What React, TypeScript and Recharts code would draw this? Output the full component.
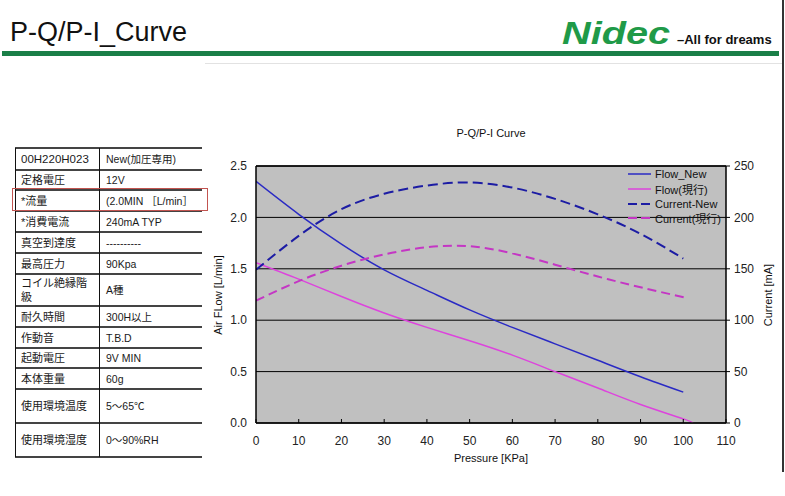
import React from 'react';
import { LineChart, Line, XAxis, YAxis, CartesianGrid, Legend, ReferenceLine } from 'recharts';

// ---- data ----
const pressureTicks = [0, 10, 20, 30, 40, 50, 60, 70, 80, 90, 100, 110];
const flowTicks = [0, 0.5, 1.0, 1.5, 2.0, 2.5];
const currentTicks = [0, 50, 100, 150, 200, 250];

const flowNewP = [0, 10, 20, 30, 40, 50, 60, 70, 80, 90, 100];
const flowNewQ = [2.35, 2.03, 1.74, 1.49, 1.29, 1.1, 0.93, 0.77, 0.61, 0.45, 0.3];

const flowOldP = [0, 10, 20, 30, 40, 50, 60, 70, 80, 90, 100, 102.3];
const flowOldQ = [1.56, 1.4, 1.23, 1.07, 0.93, 0.8, 0.66, 0.5, 0.34, 0.18, 0.04, 0];

const curNewP = [0, 10, 20, 30, 40, 50, 60, 70, 80, 90, 100];
const curNewI = [149, 182, 208, 223, 231, 234, 229, 218, 203, 184, 160];

const curOldP = [0, 10, 20, 30, 40, 50, 60, 70, 80, 90, 101];
const curOldI = [119, 138, 153, 164, 171, 172, 165, 154, 142.5, 132, 121.5];

const specLabels = ['00H220H023', '定格電圧', '*流量', '*消費電流', '真空到達度', '最高圧力', 'コイル絶縁階\n級', '耐久時間', '作動音', '起動電圧', '本体重量', '使用環境温度', '使用環境湿度'];
const specValues = ['New(加圧専用)', '12V', '(2.0MIN ［L/min］', '240mA TYP', '----------', '90Kpa', 'A種', '300H以上', 'T.B.D', '9V MIN', '60g', '5～65℃', '0～90%RH'];
const rowEdges = [148, 170, 190, 211, 232, 253, 274, 306, 327, 348, 368, 389, 423, 457];

const toRows = (xs: number[], ys: number[]) => xs.map((x, i) => ({ p: x, v: ys[i] }));

const series = [
  { name: 'Flow_New', data: toRows(flowNewP, flowNewQ), axis: 'left', color: '#2a2ac4', dash: undefined as string | undefined, width: 1.5 },
  { name: 'Flow(現行)', data: toRows(flowOldP, flowOldQ), axis: 'left', color: '#dd44dd', dash: undefined as string | undefined, width: 1.5 },
  { name: 'Current-New', data: toRows(curNewP, curNewI), axis: 'right', color: '#1c1ca4', dash: '10 5', width: 2 },
  { name: 'Current(現行)', data: toRows(curOldP, curOldI), axis: 'right', color: '#c436c4', dash: '9 5', width: 2 },
];

const sans = '"Liberation Sans", Arial, "Noto Sans CJK JP", sans-serif';
const jp = '"Liberation Sans", "Noto Sans CJK JP", sans-serif';

const LegendBox = () => (
  <div style={{ fontFamily: sans, fontSize: 11, color: '#111' }}>
    {series.map((s) => (
      <div key={s.name} style={{ display: 'flex', alignItems: 'center', height: 14.7, whiteSpace: 'nowrap' }}>
        <svg width={23} height={6} style={{ marginRight: 4 }}>
          <line x1={0} y1={3} x2={23} y2={3} stroke={s.color} strokeWidth={s.dash ? 2.2 : 1.5} strokeDasharray={s.dash ? '9 4' : undefined} />
        </svg>
        <span>{s.name}</span>
      </div>
    ))}
  </div>
);

export default function App() {
  return (
    <div style={{ position: 'absolute', left: 0, top: 0, width: 785, height: 496, background: '#fff', overflow: 'hidden', fontFamily: sans }}>
      {/* header */}
      <div style={{ position: 'absolute', left: 10, top: 16, fontSize: 27, lineHeight: '32px', color: '#111', fontFamily: sans }}>P-Q/P-I_Curve</div>
      <div style={{ position: 'absolute', left: 2, top: 51, width: 777, height: 5, background: '#1a7f48' }} />
      <div style={{ position: 'absolute', left: 562, top: 16, fontSize: 32, lineHeight: '34px', fontWeight: 900, fontStyle: 'italic', color: '#1f9a48', fontFamily: '"Liberation Sans", Arial, sans-serif', transform: 'scaleX(1.24)', transformOrigin: 'left center', letterSpacing: 0 }}>Nidec</div>
      <div style={{ position: 'absolute', left: 677, top: 32, fontSize: 13, lineHeight: '16px', fontWeight: 700, color: '#111', whiteSpace: 'nowrap' }}>–All for dreams</div>
      <div style={{ position: 'absolute', left: 782, top: 0, width: 1.5, height: 472, background: '#333' }} />
      <div style={{ position: 'absolute', left: 205, top: 63, width: 577, height: 1, background: '#e2e2e2' }} />

      {/* spec table */}
      {rowEdges.map((y, i) => (
        <div key={'h' + i} style={{ position: 'absolute', left: 15, top: y - 1, width: 187, height: 1.6, background: '#444' }} />
      ))}
      <div style={{ position: 'absolute', left: 15, top: rowEdges[0], width: 1.2, height: rowEdges[rowEdges.length - 1] - rowEdges[0], background: '#111' }} />
      <div style={{ position: 'absolute', left: 99, top: rowEdges[0], width: 1.2, height: rowEdges[rowEdges.length - 1] - rowEdges[0], background: '#111' }} />
      {specLabels.map((lab, i) => {
        const top = rowEdges[i];
        const h = rowEdges[i + 1] - rowEdges[i];
        return (
          <React.Fragment key={'r' + i}>
            <div style={{ position: 'absolute', left: 21, top, height: h, width: 78, display: 'flex', alignItems: 'center', fontFamily: jp, fontSize: i === 0 ? 11.5 : 11, lineHeight: '14px', color: '#1a1a1a', whiteSpace: 'pre-line' }}>{lab}</div>
            <div style={{ position: 'absolute', left: 106, top, height: h, width: 96, display: 'flex', alignItems: 'center', fontFamily: jp, fontSize: 10.5, lineHeight: '14px', color: '#1a1a1a', whiteSpace: 'nowrap' }}>{specValues[i]}</div>
          </React.Fragment>
        );
      })}
      <div style={{ position: 'absolute', left: 12, top: 188, width: 196, height: 23, border: '1.5px solid #c25450', boxSizing: 'border-box' }} />

      {/* chart */}
      <div style={{ position: 'absolute', left: 384, top: 126, width: 214, textAlign: 'center', fontSize: 11, lineHeight: '14px', color: '#111' }}>P-Q/P-I Curve</div>
      <div style={{ position: 'absolute', left: 218, top: 295, width: 0, height: 0 }}>
        <div style={{ position: 'absolute', left: -100, top: -7, width: 200, textAlign: 'center', fontSize: 11, lineHeight: '14px', color: '#111', transform: 'rotate(-90deg)' }}>Air FLow [L/min]</div>
      </div>
      <div style={{ position: 'absolute', left: 768, top: 295, width: 0, height: 0 }}>
        <div style={{ position: 'absolute', left: -100, top: -7, width: 200, textAlign: 'center', fontSize: 11, lineHeight: '14px', color: '#111', transform: 'rotate(-90deg)' }}>Current [mA]</div>
      </div>
      <div style={{ position: 'absolute', left: 391, top: 451, width: 200, textAlign: 'center', fontSize: 11, lineHeight: '14px', color: '#111' }}>Pressure [KPa]</div>

      <div style={{ position: 'absolute', left: 200, top: 115 }}>
        <LineChart width={585} height={360} margin={{ top: 51, right: 20, bottom: 22, left: 10 }}>
          <CartesianGrid yAxisId="left" vertical={false} stroke="#000" strokeWidth={1} fill="#c0c0c0" fillOpacity={1} />
          <XAxis
            dataKey="p"
            type="number"
            domain={[0, 110]}
            ticks={pressureTicks}
            allowDataOverflow
            height={30}
            axisLine={{ stroke: '#000', strokeWidth: 1.5 }}
            tickLine={{ stroke: '#000' }}
            tickSize={-4}
            tickMargin={17}
            tick={{ fill: '#222', fontSize: 12, fontFamily: sans }}
          />
          <YAxis
            yAxisId="left"
            orientation="left"
            type="number"
            domain={[0, 2.5]}
            ticks={flowTicks}
            allowDataOverflow
            width={46}
            axisLine={{ stroke: '#000', strokeWidth: 1.5 }}
            tickLine={false}
            tickSize={6}
            tickMargin={3}
            tickFormatter={(v: number) => v.toFixed(1)}
            tick={{ fill: '#222', fontSize: 12, fontFamily: sans }}
          />
          <YAxis
            yAxisId="right"
            orientation="right"
            type="number"
            domain={[0, 250]}
            ticks={currentTicks}
            allowDataOverflow
            width={39}
            axisLine={{ stroke: '#000', strokeWidth: 1.5 }}
            tickLine={{ stroke: '#000' }}
            tickSize={4}
            tickMargin={4}
            tick={{ fill: '#222', fontSize: 12, fontFamily: sans, textAnchor: 'start' }}
          />
          <ReferenceLine yAxisId="left" y={2.5} stroke="#000" strokeWidth={1.5} />
          {series.map((s) => (
            <Line
              key={s.name}
              name={s.name}
              data={s.data}
              dataKey="v"
              yAxisId={s.axis}
              type="natural"
              stroke={s.color}
              strokeWidth={s.width}
              strokeDasharray={s.dash}
              dot={false}
              activeDot={false}
              isAnimationActive={false}
            />
          ))}
          <Legend
            layout="vertical"
            align="center"
            verticalAlign="middle"
            wrapperStyle={{ left: 428, top: 52, width: 130, height: 60 }}
            content={() => <LegendBox />}
          />
        </LineChart>
      </div>
    </div>
  );
}
